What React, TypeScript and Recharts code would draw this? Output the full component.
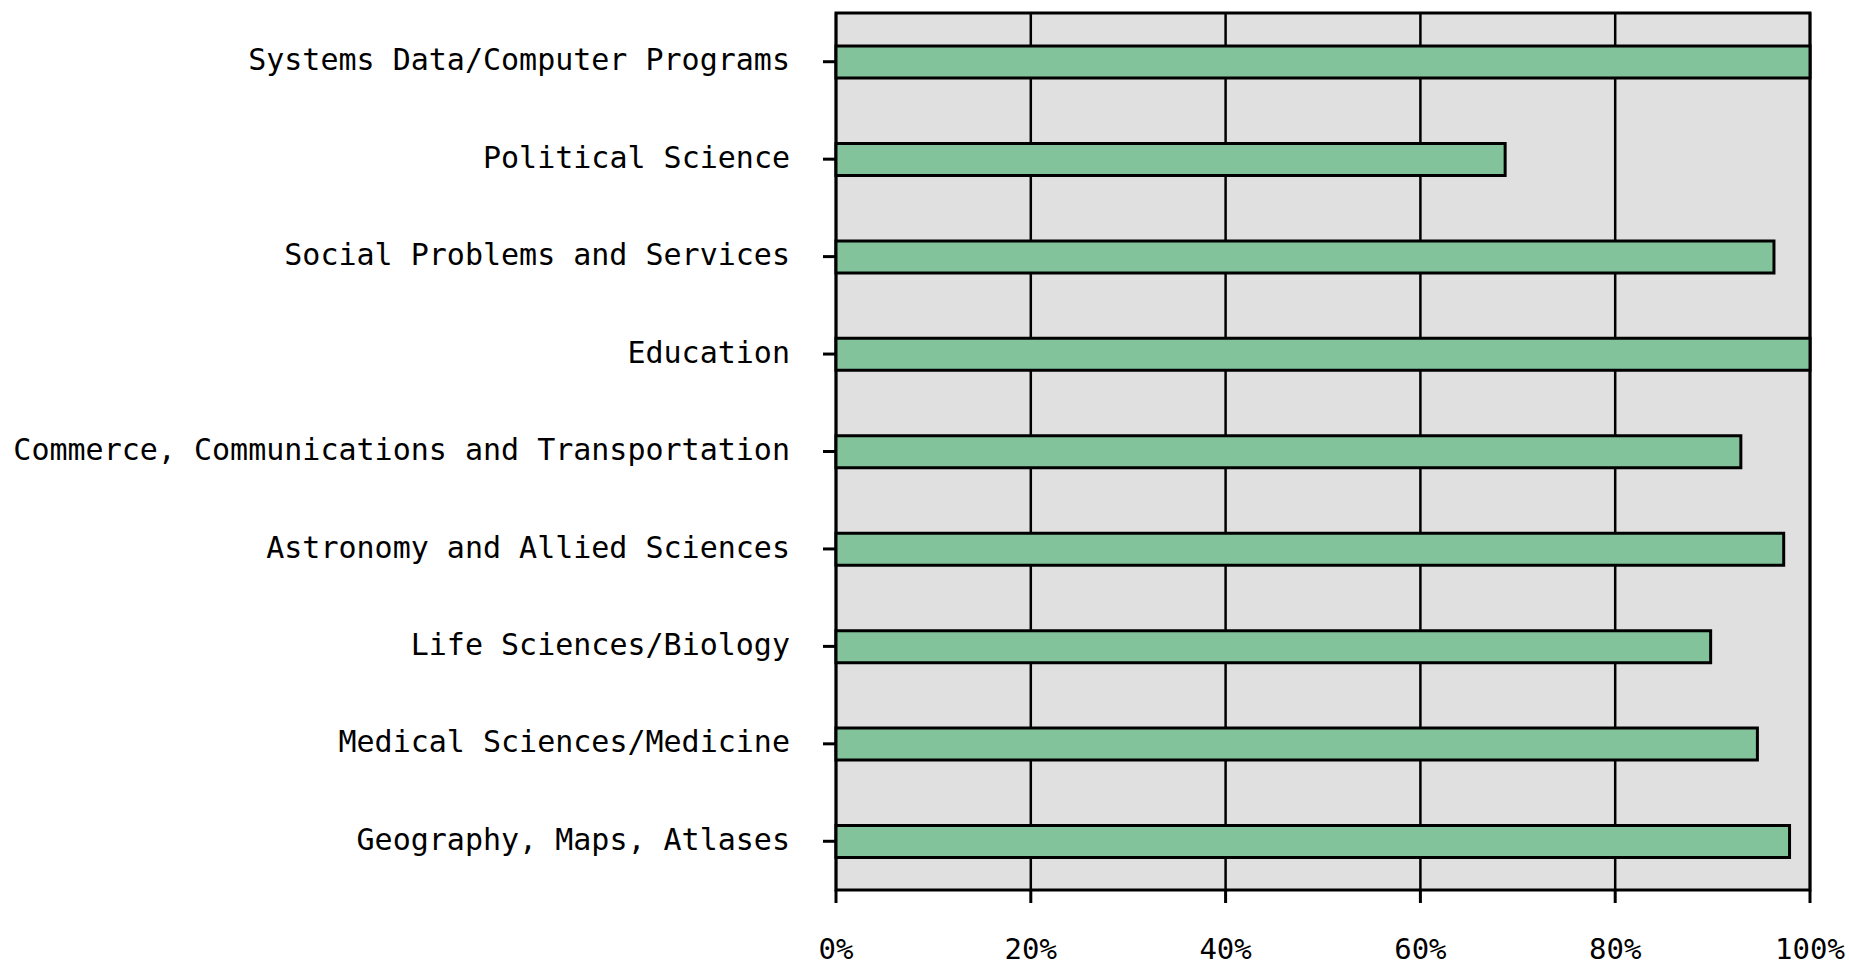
import React from 'react';
import { BarChart, Bar, XAxis, YAxis, CartesianGrid, ReferenceArea } from 'recharts';

const categories = [
  'Systems Data/Computer Programs',
  'Political Science',
  'Social Problems and Services',
  'Education',
  'Commerce, Communications and Transportation',
  'Astronomy and Allied Sciences',
  'Life Sciences/Biology',
  'Medical Sciences/Medicine',
  'Geography, Maps, Atlases',
];

const percentages = [100, 68.7, 96.3, 100, 92.9, 97.3, 89.8, 94.6, 97.9];

const xTicks = [0, 20, 40, 60, 80, 100];

const data = categories.map((name, i) => ({ name, value: percentages[i] }));

const font = '"DejaVu Sans Mono", "Liberation Mono", monospace';

export default function App() {
  return (
    <div style={{ position: 'absolute', left: 0, top: 0, width: 1849, height: 966, background: '#fff' }}>
      <BarChart
        width={1849}
        height={966}
        data={data}
        layout="vertical"
        margin={{ top: 13, right: 39, bottom: 0, left: 0 }}
        barCategoryGap={0}
      >
        <CartesianGrid horizontal={false} fill="#e0e0e0" stroke="#000" strokeWidth={2.5} />
        <XAxis
          type="number"
          domain={[0, 100]}
          ticks={xTicks}
          tickFormatter={(v) => `${v}%`}
          height={76}
          axisLine={false}
          tickSize={13}
          tickMargin={35}
          tickLine={{ stroke: '#000', strokeWidth: 3 }}
          tick={{ fill: '#000', fontSize: 29, fontFamily: font }}
          interval={0}
        />
        <YAxis
          type="category"
          dataKey="name"
          width={836}
          axisLine={false}
          tickSize={13}
          tickMargin={33}
          tickLine={{ stroke: '#000', strokeWidth: 3 }}
          tick={{ fill: '#000', fontSize: 30, fontFamily: font, dy: -2 }}
          interval={0}
        />
        <Bar
          dataKey="value"
          fill="#83c39c"
          stroke="#000"
          strokeWidth={3}
          barSize={32}
          isAnimationActive={false}
        />
        <ReferenceArea x1={0} x2={100} fill="none" stroke="#000" strokeWidth={3} ifOverflow="visible" />
      </BarChart>
    </div>
  );
}
